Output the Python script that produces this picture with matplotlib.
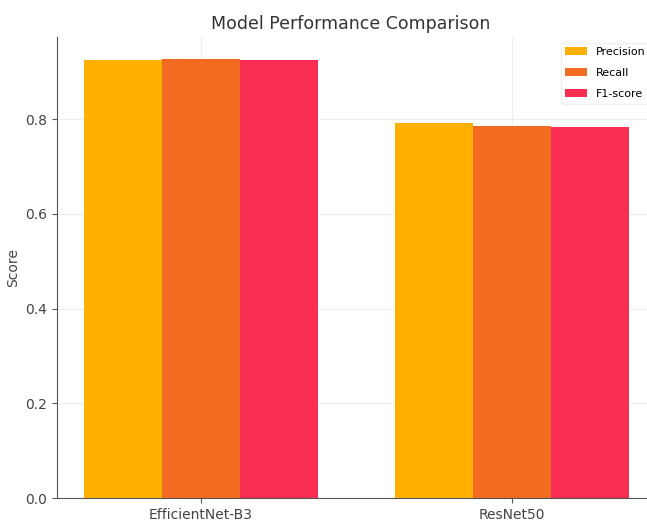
import numpy as np
import matplotlib.pyplot as plt

models = ['EfficientNet-B3', 'ResNet50']
metrics = ['Precision', 'Recall', 'F1-score']
precision = [0.925, 0.791]
recall = [0.927, 0.785]
f1 = [0.925, 0.784]
colors = ['#ffb000', '#f26b21', '#f72d52']

fig = plt.figure(figsize=(6.47, 5.21), dpi=100)
ax = fig.add_axes([0.088, 0.044, 0.926, 0.885])

x = np.arange(len(models))
w = 0.25
for i, (vals, name) in enumerate(zip([precision, recall, f1], metrics)):
    ax.bar(x + (i - 1) * w, vals, w, label=name, color=colors[i], zorder=2)

ax.set_xticks(x)
ax.set_xticklabels(models, color='#444444')
ax.set_ylabel('Score', color='#444444')
ax.set_title('Model Performance Comparison', fontsize=12.5, color='#333333', x=0.49)
ax.tick_params(colors='#555555', labelcolor='#444444')
ax.grid(True, color='#eeeeee', zorder=0)
for s in ['top', 'right']:
    ax.spines[s].set_visible(False)
for s in ['left', 'bottom']:
    ax.spines[s].set_color('#555555')
ax.legend(loc='upper right', fontsize=8, frameon=True, edgecolor='#eeeeee',
          labelspacing=1.0)

plt.savefig('out.png')
